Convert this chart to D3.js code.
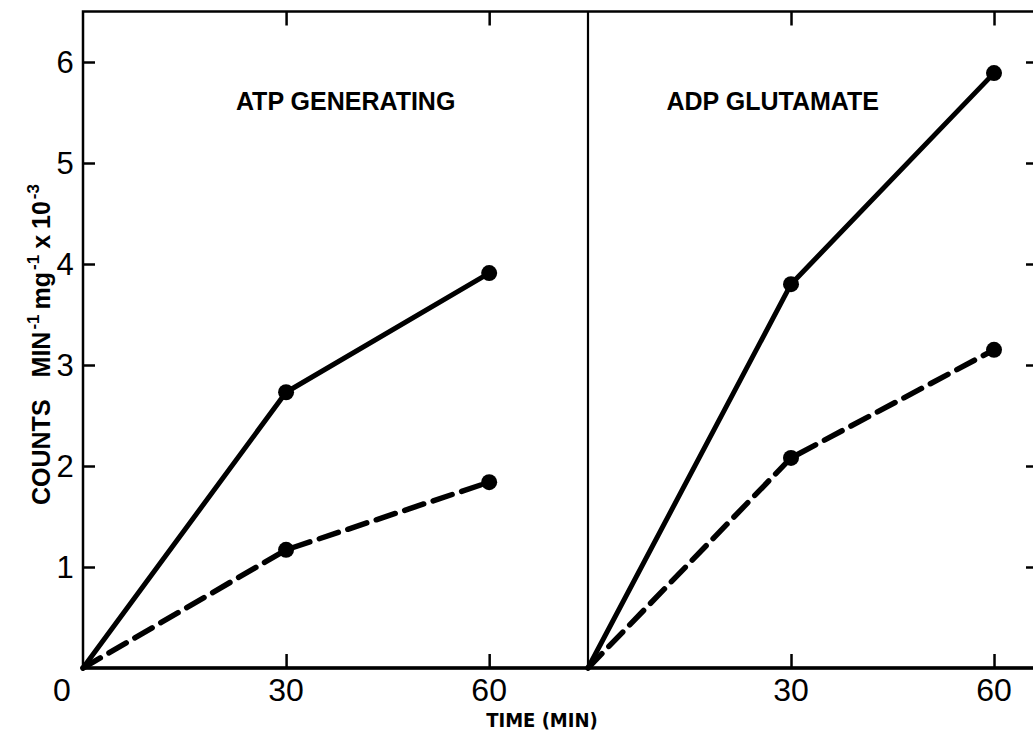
<!DOCTYPE html>
<html>
<head>
<meta charset="utf-8">
<script src="https://cdn.jsdelivr.net/npm/d3@7"></script>
<style>
  body { margin: 0; background: #fff; }
  svg { display: block; }
  text { fill: #000; }
</style>
</head>
<body>
<svg id="chart"></svg>
<script>
var times = [0, 30, 60];
var atpSolid = [0, 2.73, 3.91];
var atpDashed = [0, 1.17, 1.84];
var adpSolid = [0, 3.80, 5.89];
var adpDashed = [0, 2.08, 3.15];
var yTicks = [0, 1, 2, 3, 4, 5, 6];
var yTickLabels = ["", "1", "2", "3", "4", "5", "6"];
var xTicks = [30, 60];
var panelTitles = ["ATP GENERATING", "ADP GLUTAMATE"];
var titleAt = [38.8, 27.3]; // minutes, where each title is centred

var width = 1033,
  height = 735;

var svg = d3.select("#chart")
  .attr("width", width)
  .attr("height", height);

var y = d3.scaleLinear().domain([0, 6.5]).range([668, 11.5]);
var xL = d3.scaleLinear().domain([0, 74.6]).range([83, 588]);
var xR = d3.scaleLinear().domain([0, 66.5]).range([588, 1038]);

var font = "'Liberation Sans', Arial, sans-serif";
var condensed = "'DejaVu Sans Condensed', 'DejaVu Sans', sans-serif";

// frame
var g = svg.append("g");
g.append("rect")
  .attr("x", xL(0)).attr("y", y(6.5))
  .attr("width", xR(66.5) - xL(0))
  .attr("height", y(0) - y(6.5))
  .attr("fill", "none").attr("stroke", "#000").attr("stroke-width", 2.5);
g.append("line")
  .attr("x1", xR(0)).attr("x2", xR(0))
  .attr("y1", y(6.5)).attr("y2", y(0))
  .attr("stroke", "#000").attr("stroke-width", 2.2);
// thicker baseline
g.append("line")
  .attr("x1", xL(0)).attr("x2", xR(66.5))
  .attr("y1", y(0)).attr("y2", y(0))
  .attr("stroke", "#000").attr("stroke-width", 3.5);

// left axis ticks, inward
var leftAxis = d3.axisRight(y).tickValues(yTicks.slice(1)).tickSize(12).tickFormat("");
svg.append("g").attr("transform", "translate(" + xL(0) + ",0)").call(leftAxis)
  .call(function(s) { s.select(".domain").remove(); })
  .selectAll("line").attr("stroke-width", 2.5);

// right axis ticks, inward
var rightAxis = d3.axisLeft(y).tickValues(yTicks.slice(1)).tickSize(12).tickFormat("");
svg.append("g").attr("transform", "translate(" + xR(66.5) + ",0)").call(rightAxis)
  .call(function(s) { s.select(".domain").remove(); })
  .selectAll("line").attr("stroke-width", 2.5);

// y tick labels
svg.selectAll(".ylab").data(yTicks.slice(1)).enter().append("text")
  .attr("class", "ylab")
  .attr("x", 65)
  .attr("y", function(d) { return y(d) + 11; })
  .attr("text-anchor", "middle")
  .attr("font-family", font)
  .attr("font-size", 31)
  .text(function(d, i) { return yTickLabels[i + 1]; });

// x ticks: bottom up, top down
[xL, xR].forEach(function(x) {
  var bottom = d3.axisTop(x).tickValues(xTicks).tickSize(14).tickFormat("");
  svg.append("g").attr("transform", "translate(0," + y(0) + ")").call(bottom)
    .call(function(s) { s.select(".domain").remove(); })
    .selectAll("line").attr("stroke-width", 2.5);
  var top = d3.axisBottom(x).tickValues(xTicks).tickSize(14).tickFormat("");
  svg.append("g").attr("transform", "translate(0," + y(6.5) + ")").call(top)
    .call(function(s) { s.select(".domain").remove(); })
    .selectAll("line").attr("stroke-width", 2.5);

  svg.selectAll(null).data(xTicks).enter().append("text")
    .attr("x", function(d) { return x(d); })
    .attr("y", 701)
    .attr("text-anchor", "middle")
    .attr("font-family", font)
    .attr("font-size", 32)
    .text(function(d) { return d; });
});

svg.append("text")
  .attr("x", 62).attr("y", 701)
  .attr("text-anchor", "middle")
  .attr("font-family", font)
  .attr("font-size", 32)
  .text("0");

// axis titles
svg.append("text")
  .attr("x", 542).attr("y", 727)
  .attr("text-anchor", "middle")
  .attr("font-family", condensed)
  .attr("font-weight", "bold")
  .attr("font-size", 20)
  .text("TIME (MIN)");

var yl = svg.append("text")
  .attr("transform", "translate(50,505) rotate(-90)")
  .attr("text-anchor", "start")
  .attr("font-family", font)
  .attr("font-weight", "bold")
  .attr("font-size", 25);
yl.append("tspan").text("COUNTS");
yl.append("tspan").attr("dx", 22).text("MIN");
yl.append("tspan").attr("font-size", 17).attr("dx", 2).attr("dy", -11).text("-1");
yl.append("tspan").attr("dx", 5).attr("dy", 11).text("mg");
yl.append("tspan").attr("font-size", 17).attr("dx", 2).attr("dy", -11).text("-1");
yl.append("tspan").attr("dx", 6).attr("dy", 11).text("x");
yl.append("tspan").attr("dx", 6).text("10");
yl.append("tspan").attr("font-size", 17).attr("dx", 2).attr("dy", -11).text("-3");

// panels
var panels = [
  { x: xL, solid: atpSolid, dashed: atpDashed, title: panelTitles[0], at: titleAt[0] },
  { x: xR, solid: adpSolid, dashed: adpDashed, title: panelTitles[1], at: titleAt[1] }
];

panels.forEach(function(p) {
  var line = d3.line()
    .x(function(d, i) { return p.x(times[i]); })
    .y(function(d) { return y(d); });

  svg.append("path").datum(p.solid)
    .attr("d", line)
    .attr("fill", "none").attr("stroke", "#000")
    .attr("stroke-width", 5).attr("stroke-linecap", "round").attr("stroke-linejoin", "round");

  svg.append("path").datum(p.dashed)
    .attr("d", line)
    .attr("fill", "none").attr("stroke", "#000")
    .attr("stroke-width", 5.5).attr("stroke-linecap", "round")
    .attr("stroke-dasharray", "20,10");

  [p.solid, p.dashed].forEach(function(vals) {
    svg.selectAll(null).data(vals.slice(1)).enter().append("circle")
      .attr("cx", function(d, i) { return p.x(times[i + 1]); })
      .attr("cy", function(d) { return y(d); })
      .attr("r", 8)
      .attr("fill", "#000");
  });

  svg.append("text")
    .attr("x", p.x(p.at))
    .attr("y", 110)
    .attr("text-anchor", "middle")
    .attr("font-family", font)
    .attr("font-weight", "bold")
    .attr("font-size", 25)
    .text(p.title);
});
</script>
</body>
</html>
